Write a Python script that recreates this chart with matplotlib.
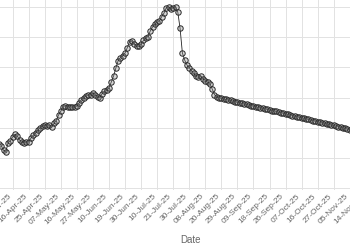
import matplotlib
matplotlib.use("Agg")
import matplotlib.pyplot as plt
import numpy as np

# Daily series (categorical dates)
values = [
    44.4, 42.4, 37.7, 36.0, 45.4, 46.9, 50.9, 53.4, 51.9, 47.9,
    45.6, 45.3, 46.0, 45.9, 49.9, 52.6, 55.1, 57.5, 60.2, 62.1,
    62.5, 61.8, 62.3, 60.5, 64.3, 67.2, 72.7, 76.7, 80.6, 82.1,
    81.1, 80.6, 80.9, 80.2, 81.6, 84.6, 88.0, 89.9, 91.5, 92.5,
    92.5, 94.8, 92.7, 90.6, 89.7, 94.0, 96.2, 97.0, 99.5, 105.4,
    111.4, 119.3, 126.7, 129.7, 131.7, 134.2, 139.6, 145.5, 145.8, 142.9,
    140.9, 140.7, 142.8, 146.6, 148.9, 150.5, 156.0, 160.0, 162.9, 164.5,
    165.9, 170.3, 173.8, 179.3, 179.8, 177.8, 179.3, 179.5, 174.8, 158.5,
    134.2, 127.2, 122.3, 119.7, 116.3, 114.0, 110.9, 110.0, 111.4, 108.8,
    106.7, 105.2, 103.9, 98.5, 93.0, 90.3, 89.7, 89.3, 88.6, 88.1,
    87.6, 87.1, 86.6, 85.8, 85.4, 85.0, 84.2, 83.7, 83.3, 82.6,
    82.1, 81.7, 81.0, 80.3, 80.0, 79.4, 78.7, 78.3, 77.8, 77.1,
    76.7, 76.2, 75.5, 75.1, 74.5, 73.8, 73.4, 72.9, 72.1, 71.7,
    71.2, 70.5, 70.0, 69.6, 68.8, 68.4, 67.8, 67.1, 66.7, 66.2,
    65.6, 65.1, 64.6, 63.9, 63.4, 62.9, 62.3, 61.8, 61.2, 60.5,
    60.1, 59.5, 58.9, 58.3, 57.8,
]

tick_labels = [
    "07-Apr-25", "16-Apr-25", "25-Apr-25", "07-May-25", "16-May-25",
    "27-May-25", "10-Jun-25", "19-Jun-25", "30-Jun-25", "10-Jul-25",
    "21-Jul-25", "30-Jul-25", "08-Aug-25", "20-Aug-25", "29-Aug-25",
    "09-Sep-25", "18-Sep-25", "26-Sep-25", "07-Oct-25", "16-Oct-25",
    "27-Oct-25", "05-Nov-25", "14-Nov-25",
]
tick_first = 6
tick_step = 7
y_grid = [0, 30, 60, 90, 120, 150, 180]

x = np.arange(len(values))
tick_pos = [tick_first + tick_step * k for k in range(len(tick_labels))]

W, H = 350, 250
fig = plt.figure(figsize=(W / 100, H / 100), dpi=100)
fig.patch.set_facecolor("white")

# axes in pixel coords (panel extends beyond the cropped figure)
left_px, right_px, bottom_px, top_px = -5, 380, 190, 0
ax = fig.add_axes([left_px / W, (H - bottom_px) / H,
                   (right_px - left_px) / W, (bottom_px - top_px) / H])
ax.set_facecolor("white")

px_per_idx = 2.293
x0_px = -1.06
ax.set_xlim((left_px - x0_px) / px_per_idx, (right_px - x0_px) / px_per_idx)
px_per_val = 1.0083
ax.set_ylim((188.3 - bottom_px) / px_per_val, (188.3 - top_px) / px_per_val)

for s in ax.spines.values():
    s.set_visible(False)

ax.set_xticks(tick_pos)
ax.set_xticklabels(tick_labels, rotation=45, ha="right", va="top",
                   fontsize=6.0, color="#666666", family="Liberation Sans")
ax.set_yticks(y_grid)
ax.set_yticklabels([])
ax.tick_params(axis="both", length=0, pad=2)
ax.grid(True, color="#e2e2e2", linewidth=0.7)
ax.set_axisbelow(True)

ax.plot(x, values, color="#222222", linewidth=0.6, marker="o",
        markersize=3.9, markerfacecolor=(0.55, 0.55, 0.55, 0.35),
        markeredgecolor="#2a2a2a", markeredgewidth=0.7, zorder=3)

fig.text(190.8 / W, 1 - 240 / H, "Date", ha="center", va="center",
         fontsize=7.0, color="#666666", family="Liberation Sans")

fig.savefig("out.png", dpi=100)
